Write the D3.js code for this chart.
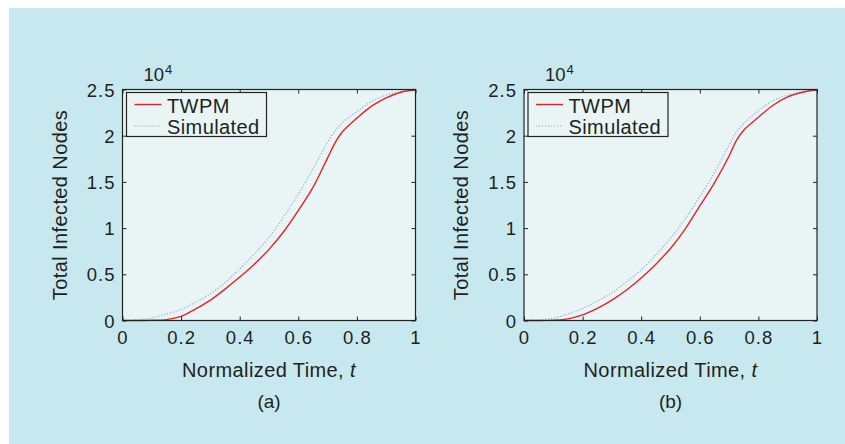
<!DOCTYPE html>
<html>
<head>
<meta charset="utf-8">
<script src="https://cdn.jsdelivr.net/npm/d3@7"></script>
<style>
    body { margin: 0; background: #ffffff; }
    svg { display: block; font-family: "Liberation Sans", Arial, Helvetica, sans-serif; }
</style>
</head>
<body>
<script>
// values (counts in units of 10^4)
const timePoints = [0, 0.05, 0.1, 0.15, 0.2, 0.25, 0.3, 0.35, 0.4, 0.45, 0.5, 0.55, 0.6, 0.65, 0.7, 0.725, 0.75, 0.8, 0.85, 0.9, 0.95, 1];
const twpmA      = [0, 0, 0.002, 0.01, 0.045, 0.125, 0.22, 0.34, 0.47, 0.61, 0.77, 0.96, 1.19, 1.44, 1.76, 1.92, 2.04, 2.19, 2.32, 2.41, 2.47, 2.5];
const simulatedA = [0, 0.006, 0.03, 0.07, 0.12, 0.2, 0.29, 0.41, 0.56, 0.72, 0.9, 1.12, 1.37, 1.64, 1.93, 2.05, 2.14, 2.26, 2.37, 2.44, 2.48, 2.5];
const twpmB      = [0, 0, 0.004, 0.018, 0.06, 0.13, 0.22, 0.33, 0.46, 0.61, 0.78, 0.99, 1.24, 1.49, 1.78, 1.95, 2.06, 2.2, 2.33, 2.42, 2.47, 2.5];
const simulatedB = [0, 0.006, 0.025, 0.07, 0.13, 0.21, 0.3, 0.42, 0.55, 0.71, 0.89, 1.1, 1.34, 1.6, 1.9, 2.04, 2.13, 2.27, 2.38, 2.44, 2.48, 2.5];
const xTicks = [0, 0.2, 0.4, 0.6, 0.8, 1];
const yTicks = [0, 0.5, 1, 1.5, 2, 2.5];
const seriesNames = ["TWPM", "Simulated"];
const panelLabels = ["(a)", "(b)"];

const textColor = "#231f20";

class InfectionPanel {
    constructor({ svg, left, top, width = 293, height = 231, twpm, simulated, label }) {
        this.svg = svg;
        this.left = left;
        this.top = top;
        this.width = width;
        this.height = height;
        this.twpm = twpm;
        this.simulated = simulated;
        this.label = label;
        this.x = d3.scaleLinear().domain([0, 1]).range([left, left + width]);
        this.y = d3.scaleLinear().domain([0, 2.5]).range([top + height, top]);
    }

    draw() {
        this._drawFrame()
        this._drawCurves()
        this._drawAxes()
        this._drawLegend()
        this._drawLabels()
    }

    _drawFrame() {
        this.svg.append("rect")
            .attr("x", this.left)
            .attr("y", this.top)
            .attr("width", this.width)
            .attr("height", this.height)
            .style("fill", "#e8f5f4");
    }

    _drawCurves() {
        const g = this.svg.append("g");
        const line = d3.line()
            .x(d => this.x(d[0]))
            .y(d => this.y(d[1]))
            .curve(d3.curveCatmullRom.alpha(0.5));

        g.append("path")
            .attr("d", line(timePoints.map((t, i) => [t, this.simulated[i]])))
            .style("fill", "none")
            .style("stroke", "#8ea9dc")
            .style("stroke-width", "1.2px")
            .style("stroke-dasharray", "1.2,1.8");

        g.append("path")
            .attr("d", line(timePoints.map((t, i) => [t, this.twpm[i]])))
            .style("fill", "none")
            .style("stroke", "#e8202a")
            .style("stroke-width", "1.4px");
    }

    _drawAxes() {
        const tickLen = 4;
        const bottom = this.top + this.height;
        const right = this.left + this.width;
        const axisG = this.svg.append("g");

        // inward MATLAB-style ticks on bottom/left, mirrored on top/right
        axisG.append("g")
            .attr("transform", "translate(0," + bottom + ")")
            .call(d3.axisBottom(this.x).tickValues(xTicks).tickSize(-tickLen).tickFormat(d3.format("")))
            .call(a => a.select(".domain").remove())
            .call(a => a.selectAll("text").attr("y", 23).attr("dy", null));
        axisG.append("g")
            .attr("transform", "translate(0," + this.top + ")")
            .call(d3.axisTop(this.x).tickValues(xTicks).tickSize(-tickLen).tickFormat(""))
            .call(a => a.select(".domain").remove());
        axisG.append("g")
            .attr("transform", "translate(" + this.left + ",0)")
            .call(d3.axisLeft(this.y).tickValues(yTicks).tickSize(-tickLen).tickPadding(7).tickFormat(d3.format("")))
            .call(a => a.select(".domain").remove())
            .call(a => a.selectAll("text").attr("dy", "0.36em"));
        axisG.append("g")
            .attr("transform", "translate(" + right + ",0)")
            .call(d3.axisRight(this.y).tickValues(yTicks).tickSize(-tickLen).tickFormat(""))
            .call(a => a.select(".domain").remove());

        axisG.selectAll("g").attr("font-family", null).attr("font-size", null);
        axisG.selectAll(".tick line").style("stroke", "#222").style("stroke-width", "1px");
        axisG.selectAll(".tick text")
            .style("fill", textColor)
            .style("font-size", "18.5px")
            .style("letter-spacing", "1px");

        this.svg.append("rect")
            .attr("x", this.left)
            .attr("y", this.top)
            .attr("width", this.width)
            .attr("height", this.height)
            .style("fill", "none")
            .style("stroke", "#222")
            .style("stroke-width", "1.2px");

        // exponent label
        const exp = this.svg.append("text")
            .attr("x", this.left + 21)
            .attr("y", this.top - 8.5)
            .style("fill", textColor)
            .style("font-size", "18.5px");
        exp.append("tspan").text("10");
        exp.append("tspan")
            .attr("dx", 1)
            .attr("dy", -7.5)
            .style("font-size", "13px")
            .text("4");
    }

    _drawLegend() {
        const bx = this.left + 4, by = this.top + 3;
        const legend = this.svg.append("g");
        legend.append("rect")
            .attr("x", bx)
            .attr("y", by)
            .attr("width", 140)
            .attr("height", 44)
            .style("fill", "#e8f5f4")
            .style("stroke", "#222")
            .style("stroke-width", "1.2px");

        const rows = legend.selectAll("g")
            .data(seriesNames)
            .enter()
            .append("g")
            .attr("transform", (d, i) => "translate(" + bx + "," + (by + 12 + i * 21.5) + ")");
        rows.append("line")
            .attr("x1", 8)
            .attr("x2", 35)
            .style("stroke", (d, i) => i === 0 ? "#e8202a" : "#8ea9dc")
            .style("stroke-width", (d, i) => i === 0 ? "1.4px" : "1.2px")
            .style("stroke-dasharray", (d, i) => i === 0 ? null : "1.2,1.8");
        rows.append("text")
            .attr("x", 40.5)
            .attr("y", 8)
            .style("fill", textColor)
            .style("font-size", "20px")
            .style("letter-spacing", "0.4px")
            .text(d => d);
    }

    _drawLabels() {
        const cx = this.left + this.width / 2;
        const bottom = this.top + this.height;
        const xLabel = this.svg.append("text")
            .attr("x", cx)
            .attr("y", bottom + 56.5)
            .attr("text-anchor", "middle")
            .style("fill", textColor)
            .style("font-size", "20px")
            .style("letter-spacing", "0.4px");
        xLabel.append("tspan").text("Normalized Time, ");
        xLabel.append("tspan").style("font-style", "italic").text("t");

        this.svg.append("text")
            .attr("transform", "translate(" + (this.left - 56) + "," + (this.top + this.height / 2) + ") rotate(-90)")
            .attr("text-anchor", "middle")
            .style("fill", textColor)
            .style("font-size", "20px")
            .style("letter-spacing", "0.4px")
            .text("Total Infected Nodes");

        this.svg.append("text")
            .attr("x", cx)
            .attr("y", bottom + 87.5)
            .attr("text-anchor", "middle")
            .style("fill", textColor)
            .style("font-size", "19px")
            .text(this.label);
    }
}

const svg = d3.select("body")
    .append("svg")
    .attr("width", 845)
    .attr("height", 444);

svg.append("rect")
    .attr("x", 9)
    .attr("y", 8)
    .attr("width", 836)
    .attr("height", 436)
    .style("fill", "#c7e8ef");

new InfectionPanel({ svg, left: 122.5, top: 89.5, twpm: twpmA, simulated: simulatedA, label: panelLabels[0] }).draw();
new InfectionPanel({ svg, left: 524, top: 89.5, twpm: twpmB, simulated: simulatedB, label: panelLabels[1] }).draw();
</script>
</body>
</html>
